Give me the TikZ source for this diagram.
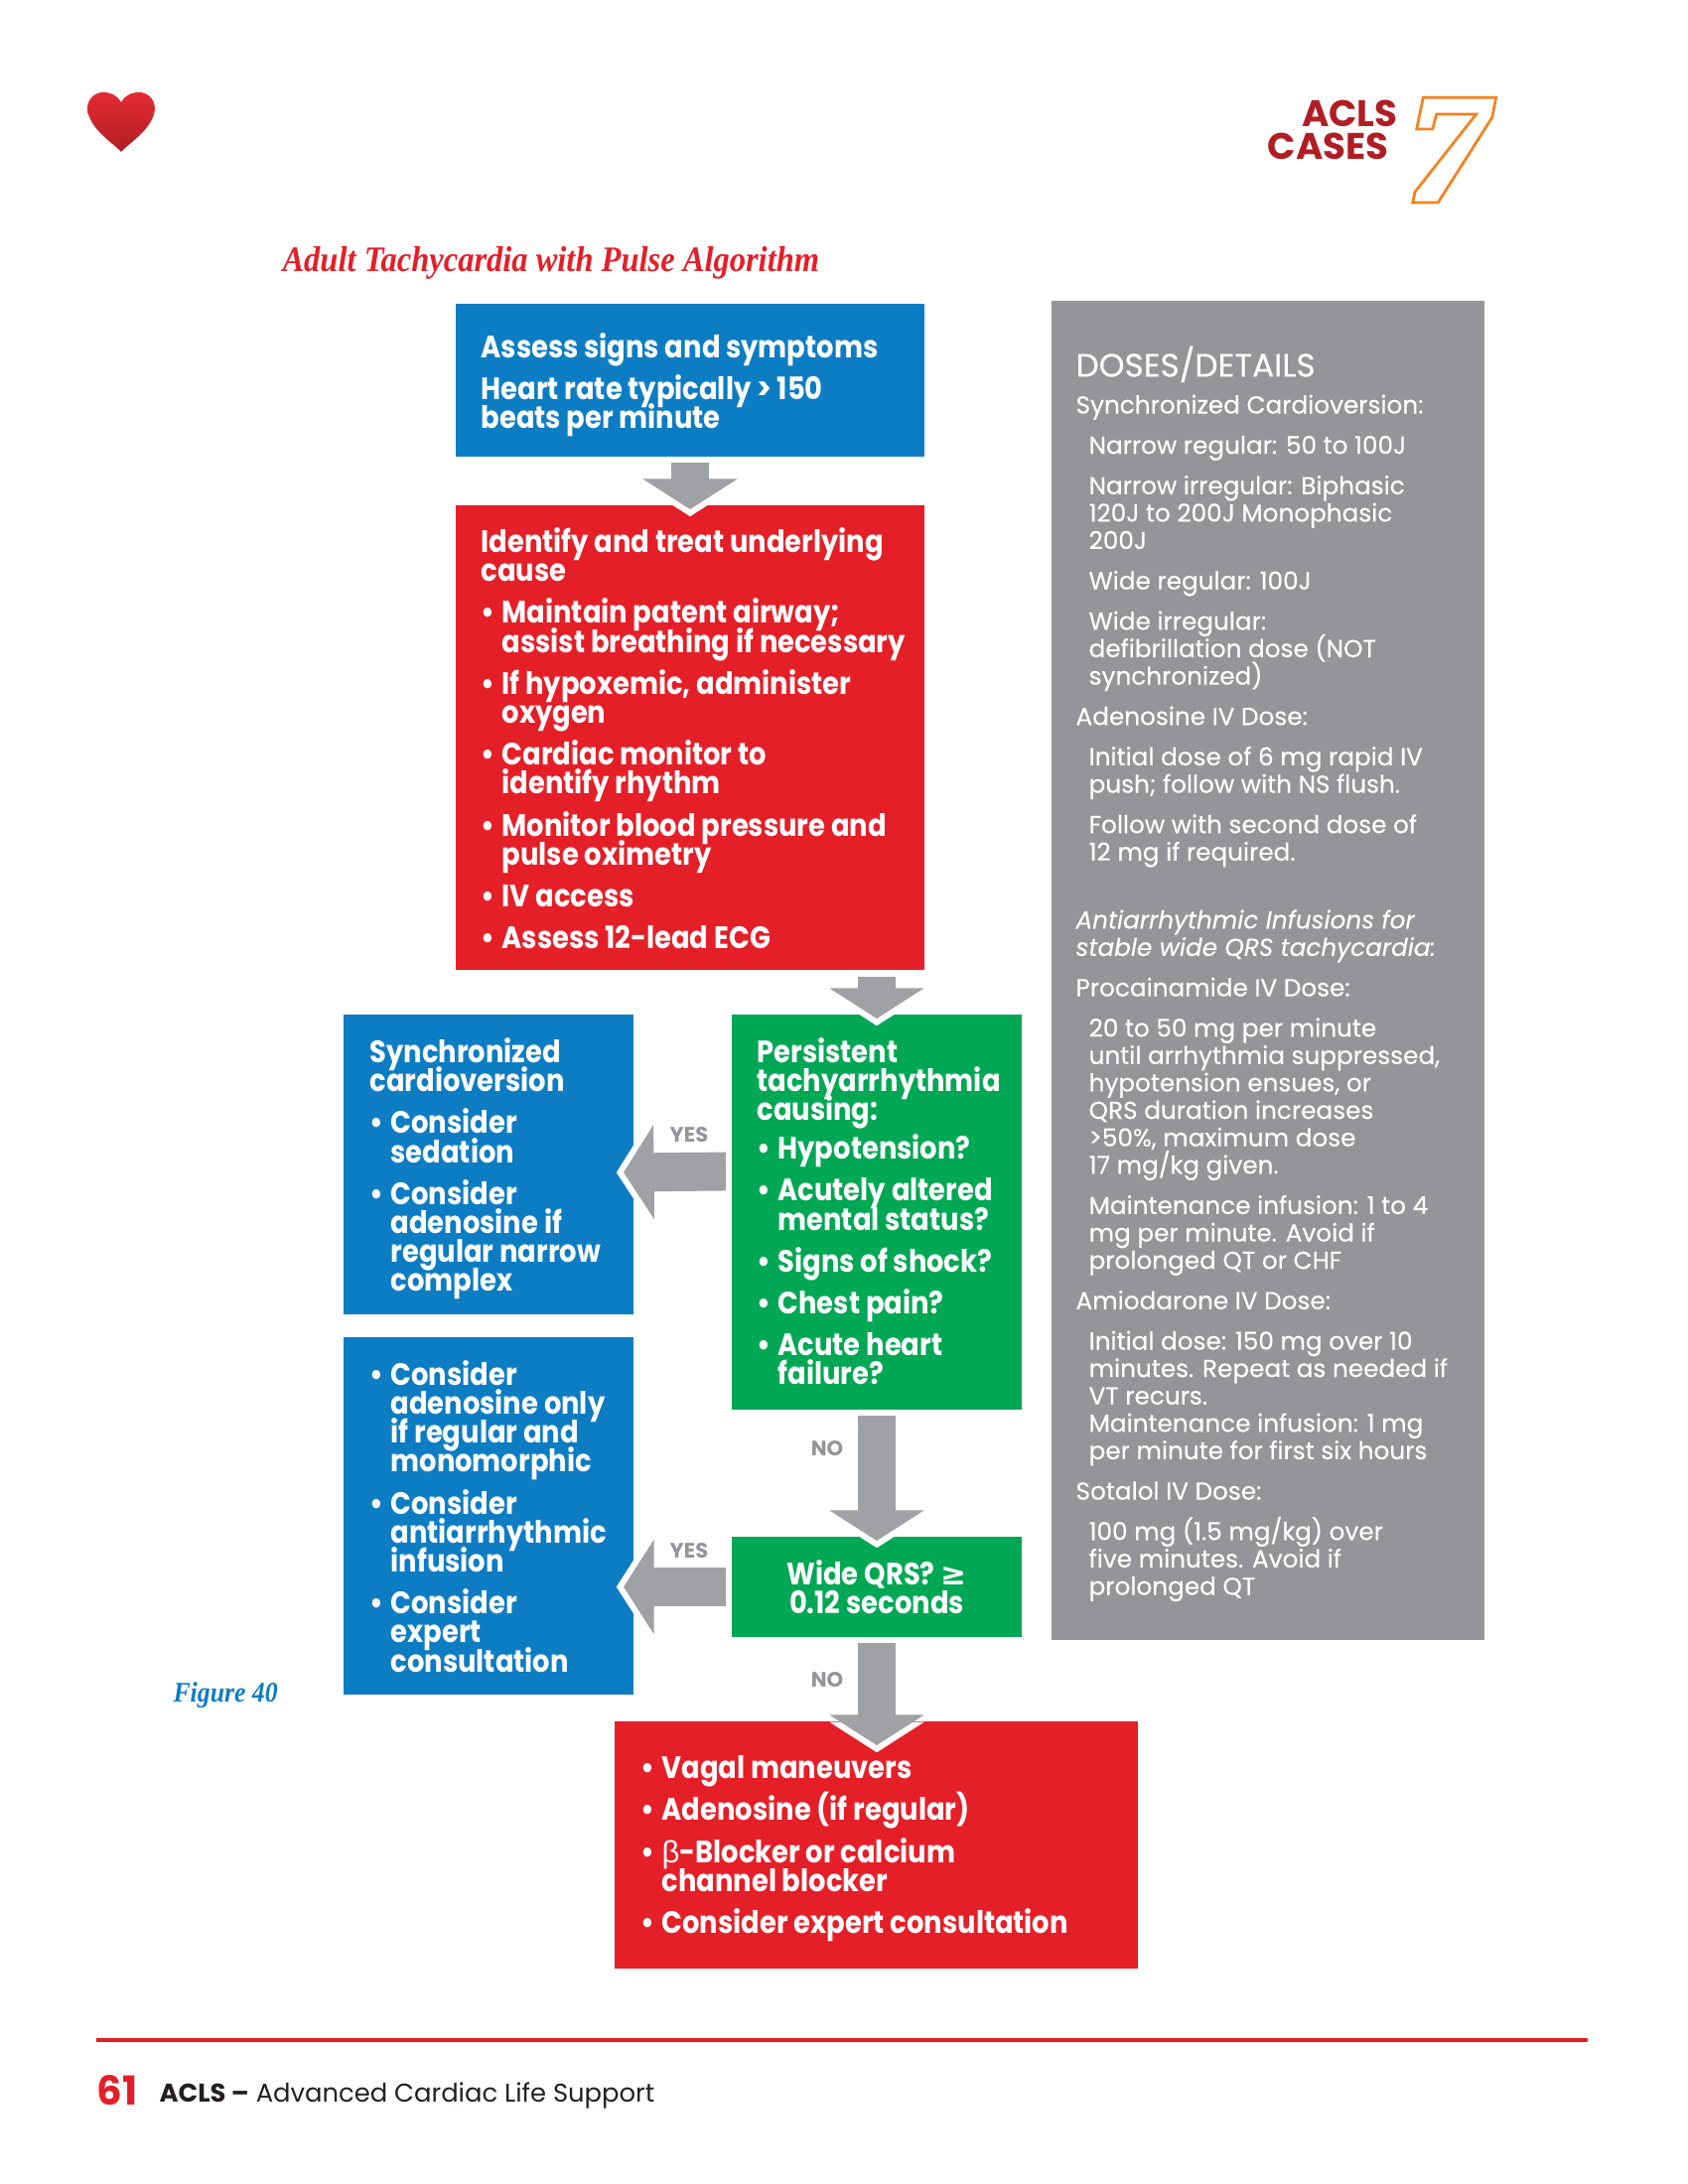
\documentclass[tikz,border=0pt]{standalone}
\usepackage{fontspec}
\usepackage{xcolor}
\usetikzlibrary{arrows.meta,calc}
\setmainfont{Poppins}
\newfontfamily\flowfont[FakeStretch=0.88]{Poppins}
\newfontfamily\dosefont[FakeBold=0.3]{Poppins}
\newfontfamily\titlefont[FakeStretch=0.9]{Liberation Serif}
\newfontfamily\symfont{DejaVu Sans}
\newfontfamily\greekfont{Liberation Sans}
\definecolor{flowblue}{RGB}{13,125,195}
\definecolor{flowred}{RGB}{228,31,40}
\definecolor{flowgreen}{RGB}{0,167,84}
\definecolor{dosegray}{RGB}{147,149,152}
\definecolor{arrowgray}{RGB}{160,161,165}
\definecolor{casered}{RGB}{176,30,36}
\definecolor{caseorange}{RGB}{245,130,32}
\definecolor{footink}{RGB}{35,31,32}
\newcommand{\pxu}{0.36pt}
\newcommand{\bul}{\makebox[7.6pt][l]{\textbullet}}
\newcommand{\ind}{\hspace*{7.6pt}}
\setlength{\normallineskiplimit}{-100pt}
\AtBeginDocument{\setlength{\lineskiplimit}{-100pt}}

\begin{document}
\begin{tikzpicture}[
  x=0.36pt, y=-0.36pt,
  flowbox/.style={anchor=north west, inner sep=0pt, outer sep=0pt},
  flowtext/.style={anchor=north west, inner sep=0pt, align=left, text=white, font=\flowfont\bfseries\fontsize{11.2}{10.5}\selectfont},
  dosetext/.style={anchor=north west, inner sep=0pt, align=left, text=white, font=\dosefont\fontsize{8.9}{9.94}\selectfont},
  branchlabel/.style={inner sep=0pt, text=dosegray, font=\bfseries\fontsize{7.6}{9}\selectfont},
  blockarrow/.style={draw=arrowgray, line width=14pt, -{Triangle[length=11pt,width=33.8pt]},
    preaction={draw=white, shorten >=-2.6pt}}
]
\useasboundingbox (0,0) rectangle (1700,2200);

\shade[top color=flowred!95!white, bottom color=casered] (122,153) .. controls (114,144) and (90,130) .. (88,110)
  .. controls (88,99) and (96,93) .. (104,93) .. controls (112,93) and (119,97) .. (122,103)
  .. controls (125,97) and (132,93) .. (140,93) .. controls (148,93) and (156,99) .. (156,110)
  .. controls (154,130) and (130,144) .. (122,153) -- cycle;

\node[anchor=north east, inner sep=0pt, align=right, text=casered, font=\bfseries\fontsize{13.4}{11.9}\selectfont] (acls) at (1408,100) {ACLS\\CASES\hspace*{3.2pt}};
\draw[caseorange, line width=1pt] (1433.3,98.3) -- (1506.7,98.3) -- (1502.7,118.3) -- (1448.3,204) -- (1422.7,204) -- (1425,193.3)
  -- (1486.7,115) -- (1446.7,115) -- (1442.7,130) -- (1426.7,130) -- cycle;

\node[anchor=base west, inner sep=0pt, text=flowred, font=\titlefont\bfseries\itshape\fontsize{13}{12}\selectfont] (title) at (284,274) {Adult Tachycardia with Pulse Algorithm};
\node[anchor=base west, inner sep=0pt, text=flowblue, font=\titlefont\bfseries\itshape\fontsize{10.3}{10}\selectfont] (figlabel) at (174,1714) {Figure 40};

\node[flowbox, fill=flowblue, minimum width=472*\pxu, minimum height=154*\pxu] (assess) at (459,306) {};
\node[flowbox, fill=flowred, minimum width=472*\pxu, minimum height=468*\pxu] (treat) at (459,509) {};
\node[flowbox, fill=flowgreen, minimum width=292*\pxu, minimum height=398*\pxu] (persist) at (737,1022) {};
\node[flowbox, fill=flowblue, minimum width=292*\pxu, minimum height=302*\pxu] (sync) at (346,1022) {};
\node[flowbox, fill=flowblue, minimum width=292*\pxu, minimum height=360*\pxu] (adeno) at (346,1347) {};
\node[flowbox, fill=flowgreen, minimum width=292*\pxu, minimum height=101*\pxu] (wide) at (737,1548) {};
\node[flowbox, fill=flowred, minimum width=527*\pxu, minimum height=249*\pxu] (vagal) at (619,1734) {};
\node[flowbox, fill=dosegray, minimum width=436*\pxu, minimum height=1349*\pxu] (doses) at (1059,303) {};

\draw[blockarrow] ($(assess.south)+(0,6)$) -- ($(treat.north)+(0,4)$);
\draw[blockarrow] ($(persist.north |- treat.south)+(0,7)$) -- ($(persist.north)+(0,4)$);
\draw[blockarrow] ($(persist.south)+(0,6)$) -- ($(wide.north)+(0,4)$);
\draw[blockarrow] ($(wide.south)+(0,6)$) -- ($(wide.south |- vagal.north)+(0,24)$);
\draw[blockarrow] ($(persist.west)+(-6,-41)$) -- ($(sync.east)+(-10,8)$);
\draw[blockarrow] ($(wide.west)+(-6,0)$) -- ($(adeno.east |- wide.west)+(-10,0)$);

\node[branchlabel] (yes1) at (694,1143) {YES};
\node[branchlabel] (yes2) at (694,1562) {YES};
\node[branchlabel] (no1) at (833,1459) {NO};
\node[branchlabel] (no2) at (833,1692) {NO};

\node[flowtext] (assess_txt) at (484,335) {Assess signs and symptoms\\[4.7pt]Heart rate typically > 150\\beats per minute};
\node[flowtext] (treat_txt) at (484,531) {Identify and treat underlying\\cause\\[4.7pt]
  \bul Maintain patent airway;\\\ind assist breathing if necessary\\[4.7pt]
  \bul If hypoxemic, administer\\\ind oxygen\\[4.7pt]
  \bul Cardiac monitor to\\\ind identify rhythm\\[4.7pt]
  \bul Monitor blood pressure and\\\ind pulse oximetry\\[4.7pt]
  \bul IV access\\[4.7pt]
  \bul Assess 12-lead ECG};
\node[flowtext] (sync_txt) at (372,1045) {Synchronized\\cardioversion\\[4.7pt]
  \bul Consider\\\ind sedation\\[4.7pt]
  \bul Consider\\\ind adenosine if\\\ind regular narrow\\\ind complex};
\node[flowtext] (adeno_txt) at (372,1370) {\bul Consider\\\ind adenosine only\\\ind if regular and\\\ind monomorphic\\[4.7pt]
  \bul Consider\\\ind antiarrhythmic\\\ind infusion\\[4.7pt]
  \bul Consider\\\ind expert\\\ind consultation};
\node[flowtext] (persist_txt) at (762,1045) {Persistent\\tachyarrhythmia\\causing:\\[3.5pt]
  \bul Hypotension?\\[4.7pt]
  \bul Acutely altered\\\ind mental status?\\[4.7pt]
  \bul Signs of shock?\\[4.7pt]
  \bul Chest pain?\\[4.7pt]
  \bul Acute heart\\\ind failure?};
\node[flowtext, anchor=center, align=center] (wide_txt) at (wide.center) {Wide QRS? {\symfont ≥}\\0.12 seconds};
\node[flowtext] (vagal_txt) at (645,1768) {\bul Vagal maneuvers\\[4.7pt]
  \bul Adenosine (if regular)\\[4.7pt]
  \bul {\greekfont\mdseries β}-Blocker or calcium\\\ind channel blocker\\[4.7pt]
  \bul Consider expert consultation};

\node[dosetext] (doses_txt) at (1083,348) {{\fontsize{11.8}{10}\selectfont DOSES/DETAILS}\\[3.4pt]
  Synchronized Cardioversion:\\[4.7pt]
  \hspace*{4.7pt}Narrow regular: 50 to 100J\\[4.7pt]
  \hspace*{4.7pt}Narrow irregular: Biphasic\\\hspace*{4.7pt}120J to 200J Monophasic\\\hspace*{4.7pt}200J\\[4.7pt]
  \hspace*{4.7pt}Wide regular: 100J\\[4.7pt]
  \hspace*{4.7pt}Wide irregular:\\\hspace*{4.7pt}defibrillation dose (NOT\\\hspace*{4.7pt}synchronized)\\[4.7pt]
  Adenosine IV Dose:\\[4.7pt]
  \hspace*{4.7pt}Initial dose of 6 mg rapid IV\\\hspace*{4.7pt}push; follow with NS flush.\\[4.7pt]
  \hspace*{4.7pt}Follow with second dose of\\\hspace*{4.7pt}12 mg if required.\\[14.7pt]
  \textit{Antiarrhythmic Infusions for}\\\textit{stable wide QRS tachycardia:}\\[4.7pt]
  Procainamide IV Dose:\\[4.7pt]
  \hspace*{4.7pt}20 to 50 mg per minute\\\hspace*{4.7pt}until arrhythmia suppressed,\\\hspace*{4.7pt}hypotension ensues, or\\\hspace*{4.7pt}QRS duration increases\\\hspace*{4.7pt}>50\%, maximum dose\\\hspace*{4.7pt}17 mg/kg given.\\[4.7pt]
  \hspace*{4.7pt}Maintenance infusion: 1 to 4\\\hspace*{4.7pt}mg per minute. Avoid if\\\hspace*{4.7pt}prolonged QT or CHF\\[4.7pt]
  Amiodarone IV Dose:\\[4.7pt]
  \hspace*{4.7pt}Initial dose: 150 mg over 10\\\hspace*{4.7pt}minutes. Repeat as needed if\\\hspace*{4.7pt}VT recurs.\\\hspace*{4.7pt}Maintenance infusion: 1 mg\\\hspace*{4.7pt}per minute for first six hours\\[4.7pt]
  Sotalol IV Dose:\\[4.7pt]
  \hspace*{4.7pt}100 mg (1.5 mg/kg) over\\\hspace*{4.7pt}five minutes. Avoid if\\\hspace*{4.7pt}prolonged QT};

\coordinate (rule_l) at (97,2055);
\coordinate (rule_r) at (1599,2055);
\draw[flowred, line width=1.1pt] (rule_l) -- (rule_r);
\node[anchor=base west, inner sep=0pt, text=flowred, font=\bfseries\fontsize{14.5}{13}\selectfont] (pageno) at (97,2120) {61};
\node[anchor=base west, inner sep=0pt, text=footink, font=\fontsize{9.3}{10}\selectfont] (foot) at (160,2117) {\textbf{ACLS –} Advanced Cardiac Life Support};
\end{tikzpicture}
\end{document}
